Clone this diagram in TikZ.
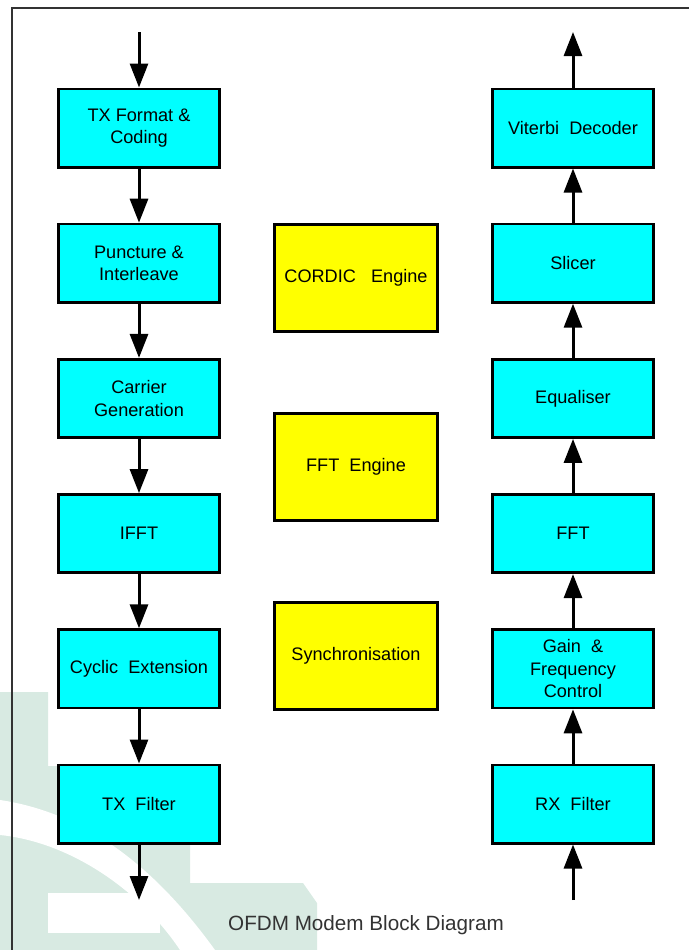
\documentclass[tikz,border=0pt]{standalone}
\usepackage{fontspec}
\setmainfont{Liberation Sans}
\usetikzlibrary{arrows.meta,positioning}
\definecolor{boxcyan}{RGB}{0,255,255}
\definecolor{boxyellow}{RGB}{255,255,0}
\definecolor{markgreen}{RGB}{216,234,226}
\definecolor{framegray}{RGB}{51,51,51}

\begin{document}
\begin{tikzpicture}[x=0.75pt, y=-0.75pt,
>={Triangle[length=18pt,width=13.5pt]},
line width=2.25pt,
node distance=40.65pt,
block/.style={draw, line width=2pt, fill=boxcyan, rectangle, align=center, minimum width=121pt, minimum height=58.75pt, font=\fontsize{13.6}{17}\selectfont},
engine/.style={block, fill=boxyellow, minimum width=122.5pt, minimum height=80.5pt}]

\useasboundingbox (0,0) rectangle (689,950);

% watermark in the background
\fill[markgreen] (0,692) -- (48,692) -- (48,766) -- (190,766) -- (190,883) -- (303,883) -- (317,903) -- (317,950) -- (0,950) -- cycle;
\fill[white] (0,800) .. controls (80,812) and (150,860) .. (215,950) -- (180,950) .. controls (140,890) and (70,842) .. (0,835) -- cycle;
\fill[white] (48,893) rectangle (160,933);

% frame
\draw[framegray, line width=1.5pt] (12,950) -- (12,8) -- (689,8);

% transmitter
\node[block]                      (txfmt)   at (139,128) {TX Format \&\\Coding};
\node[block, below=of txfmt]      (punct)   {Puncture \&\\Interleave};
\node[block, below=of punct]      (carrier) {Carrier\\Generation};
\node[block, below=of carrier]    (ifft)    {IFFT};
\node[block, below=of ifft]       (cyclic)  {Cyclic\ \ Extension};
\node[block, below=of cyclic]     (txfilt)  {TX\ \ Filter};

% receiver
\node[block, right=202.5pt of txfmt] (viterbi) {Viterbi\ \ Decoder};
\node[block, below=of viterbi]    (slicer)  {Slicer};
\node[block, below=of slicer]     (equal)   {Equaliser};
\node[block, below=of equal]      (fft)     {FFT};
\node[block, below=of fft]        (gain)    {Gain\ \ \&\\Frequency\\Control};
\node[block, below=of gain]       (rxfilt)  {RX\ \ Filter};

% shared engines
\node[engine]                          (cordic)    at (356,278) {CORDIC\ \ \ Engine};
\node[engine, below=59.25pt of cordic]    (fftengine) {FFT\ \ Engine};
\node[engine, below=59.25pt of fftengine] (sync)      {Synchronisation};

\coordinate (txin)  at (139,32);
\coordinate (txout) at (139,900);
\coordinate (rxout) at (viterbi |- txin);
\coordinate (rxin)  at (viterbi |- txout);

\path[->]
 (txin) edge (txfmt)
 (txfmt) edge (punct)
 (punct) edge (carrier)
 (carrier) edge (ifft)
 (ifft) edge (cyclic)
 (cyclic) edge (txfilt)
 (txfilt) edge (txout)

 (rxin) edge (rxfilt)
 (rxfilt) edge (gain)
 (gain) edge (fft)
 (fft) edge (equal)
 (equal) edge (slicer)
 (slicer) edge (viterbi)
 (viterbi) edge (rxout);

\node[font=\fontsize{15.5}{18}\selectfont, text=framegray] (caption) at (366,925) {OFDM Modem Block Diagram};

\end{tikzpicture}
\end{document}
